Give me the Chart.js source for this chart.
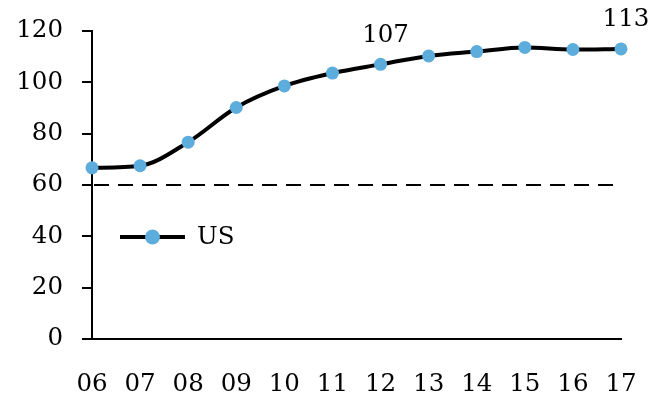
<!DOCTYPE html>
<html>
<head>
<meta charset="utf-8">
<script src="https://cdn.jsdelivr.net/npm/chart.js@4/dist/chart.umd.min.js"></script>
<style>
  html, body { margin: 0; padding: 0; background: #fff; }
  #wrap { width: 652px; height: 395px; }
</style>
</head>
<body>
<div id="wrap"><canvas id="c" width="652" height="395"></canvas></div>
<script>
// Years (two-digit) along the x axis
const years = ['06', '07', '08', '09', '10', '11', '12', '13', '14', '15', '16', '17'];
// US index values
const usValues = [66.7, 67.5, 76.7, 90.2, 98.6, 103.6, 107, 110.3, 112, 113.6, 112.8, 113];
// Years whose value is printed above the point
const labeledYears = ['12', '17'];
// Dashed reference level
const referenceLevel = [60];
// Y axis range and step
const yRange = [0, 120];
const yStep = 20;

const FONT = { family: '"DejaVu Serif", serif', size: 24.5 };
const MARKER = '#5DADDC';

const referenceLine = {
  id: 'referenceLine',
  beforeDatasetsDraw(chart) {
    const { ctx, chartArea, scales } = chart;
    const y = scales.y.getPixelForValue(referenceLevel[0]);
    ctx.save();
    ctx.strokeStyle = '#000';
    ctx.lineWidth = 2;
    ctx.setLineDash([15, 9]);
    ctx.beginPath();
    ctx.moveTo(chartArea.left + 2, y);
    ctx.lineTo(chartArea.right, y);
    ctx.stroke();
    ctx.restore();
  }
};

const valueLabels = {
  id: 'valueLabels',
  afterDatasetsDraw(chart) {
    const { ctx } = chart;
    const meta = chart.getDatasetMeta(0);
    const data = chart.data.datasets[0].data;
    ctx.save();
    ctx.fillStyle = '#000';
    ctx.font = `${FONT.size}px ${FONT.family}`;
    ctx.textAlign = 'center';
    ctx.textBaseline = 'middle';
    labeledYears.forEach(yr => {
      const i = chart.data.labels.indexOf(yr);
      const pt = meta.data[i];
      ctx.fillText(String(data[i]), pt.x + 5, pt.y - 29);
    });
    ctx.restore();
  }
};

const insideLegend = {
  id: 'insideLegend',
  afterDraw(chart) {
    const { ctx, chartArea } = chart;
    const ds = chart.data.datasets[0];
    const x0 = chartArea.left + 28, x1 = chartArea.left + 93;
    const y = chartArea.top + 206;
    ctx.save();
    ctx.strokeStyle = ds.borderColor;
    ctx.lineWidth = ds.borderWidth;
    ctx.beginPath();
    ctx.moveTo(x0, y);
    ctx.lineTo(x1, y);
    ctx.stroke();
    ctx.fillStyle = MARKER;
    ctx.beginPath();
    ctx.arc((x0 + x1) / 2, y, 7.5, 0, Math.PI * 2);
    ctx.fill();
    ctx.fillStyle = '#000';
    ctx.font = `${FONT.size}px ${FONT.family}`;
    ctx.textAlign = 'left';
    ctx.textBaseline = 'middle';
    ctx.fillText(ds.label, x1 + 12, y + 1);
    ctx.restore();
  }
};

new Chart(document.getElementById('c'), {
  type: 'line',
  data: {
    labels: years,
    datasets: [{
      label: 'US',
      data: usValues,
      borderColor: '#000',
      borderWidth: 4,
      cubicInterpolationMode: 'monotone',
      pointRadius: 6.5,
      pointHoverRadius: 6.5,
      pointBackgroundColor: MARKER,
      pointBorderColor: MARKER,
      pointBorderWidth: 0,
      clip: false
    }]
  },
  options: {
    responsive: false,
    animation: false,
    events: [],
    layout: { padding: { top: 31, right: 31, left: 0, bottom: 0 } },
    plugins: { legend: { display: false }, tooltip: { enabled: false } },
    scales: {
      x: {
        offset: false,
        grid: { display: false, drawTicks: false },
        border: { display: true, color: '#000', width: 2 },
        ticks: { color: '#000', font: FONT, padding: 31, maxRotation: 0, autoSkip: false },
        afterFit(scale) { scale.height = 56; scale.paddingLeft = 0; scale.paddingRight = 0; }
      },
      y: {
        min: yRange[0],
        max: yRange[1],
        ticks: { stepSize: yStep, color: '#000', font: FONT, padding: 19 },
        grid: { drawOnChartArea: false, drawTicks: true, tickLength: 10, color: '#000', lineWidth: 2 },
        border: { display: true, color: '#000', width: 2 },
        afterFit(scale) { scale.width = 92; scale.paddingTop = 0; scale.paddingBottom = 0; }
      }
    }
  },
  plugins: [referenceLine, valueLabels, insideLegend]
});
</script>
</body>
</html>
